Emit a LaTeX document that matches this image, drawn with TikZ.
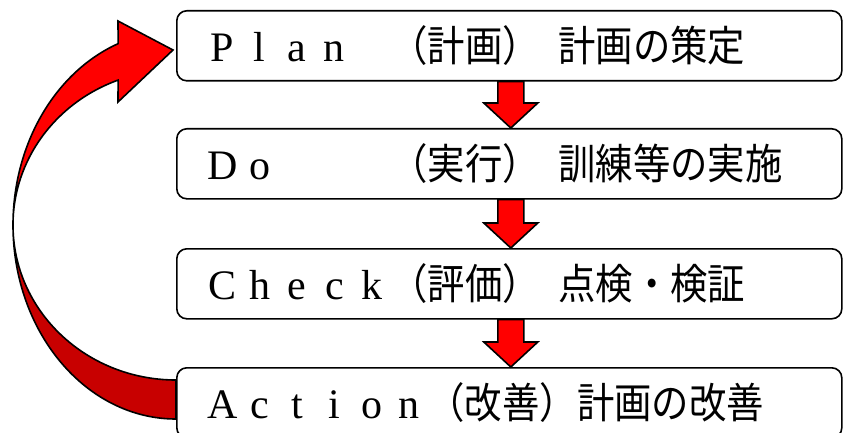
\documentclass[tikz,border=0pt]{standalone}
\usepackage{fontspec}
\usetikzlibrary{calc}
\newfontfamily\jpfont[FakeStretch=0.89]{Noto Sans CJK JP}
\newfontfamily\latfont{Liberation Serif}
\newlength\cw
\setlength\cw{37.3pt}
\newcommand\fwl[1]{\makebox[\cw][c]{\latfont #1}}
\definecolor{arrowred}{HTML}{FF0000}
\definecolor{backred}{HTML}{C80000}
\tikzset{
  box/.style={draw=black, line width=1.6pt, fill=white, rounded corners=10pt,
    minimum height=70pt, text width=611pt, inner xsep=27pt, inner ysep=0pt,
    align=left, anchor=north west, font=\fontsize{42}{42}\selectfont},
  blockarrow/.style={draw=black, line width=1.6pt, fill=arrowred, line join=miter},
  bandfront/.style={draw=black, line width=1.6pt, fill=arrowred, line join=miter},
  bandback/.style={draw=black, line width=1.6pt, fill=backred, line join=miter},
}
\begin{document}
\begin{tikzpicture}[x=1pt,y=-1pt]
\useasboundingbox (0,0) rectangle (843,433);
\fill[white] (0,0) rectangle (843,433);
% back (lower) part of the curved arrow
\draw[bandback] (13,225) arc[start angle=180, end angle=90, x radius=163, y radius=194]
  -- (176,380) arc[start angle=90, end angle=180, x radius=163, y radius=155] -- cycle;
% boxes
\node[box] (plan) at (176,10) {\fwl{P}\fwl{l}\fwl{a}\fwl{n}\hspace{\cw}{\jpfont （計画）}\hspace{0.5\cw}{\jpfont 計画の策定}};
\node[box] (do) at (176,128) {\fwl{D}\fwl{o}\hspace{3\cw}{\jpfont （実行）}\hspace{0.5\cw}{\jpfont 訓練等の実施}};
\node[box] (check) at (176,248) {\fwl{C}\fwl{h}\fwl{e}\fwl{c}\fwl{k}{\jpfont （評価）}\hspace{0.5\cw}{\jpfont 点検・検証}};
\node[box] (action) at (176,367) {\fwl{A}\fwl{c}\fwl{t}\fwl{i}\fwl{o}\fwl{n}{\jpfont （改善）計画の改善}};
% front (upper) part of the curved arrow with its head
\draw[bandfront] (13,225) arc[start angle=180, end angle=249.2, x radius=163, y radius=194]
  -- (118,21) -- (173,50) -- (118,102) -- (118.1,80.1)
  arc[start angle=249.2, end angle=180, x radius=163, y radius=155] -- cycle;
% down block arrows
\foreach \a/\b in {plan/do, do/check, check/action}{
  \draw[blockarrow] ($(\a.south)+(-11.5,0)$) -- ($(\a.south)+(14.5,0)$)
    -- ($(\b.north)+(14.5,-25)$) -- ($(\b.north)+(28.5,-25)$)
    -- ($(\b.north)+(1.5,0)$) -- ($(\b.north)+(-25.5,-25)$)
    -- ($(\b.north)+(-11.5,-25)$) -- cycle;
}
\end{tikzpicture}
\end{document}
